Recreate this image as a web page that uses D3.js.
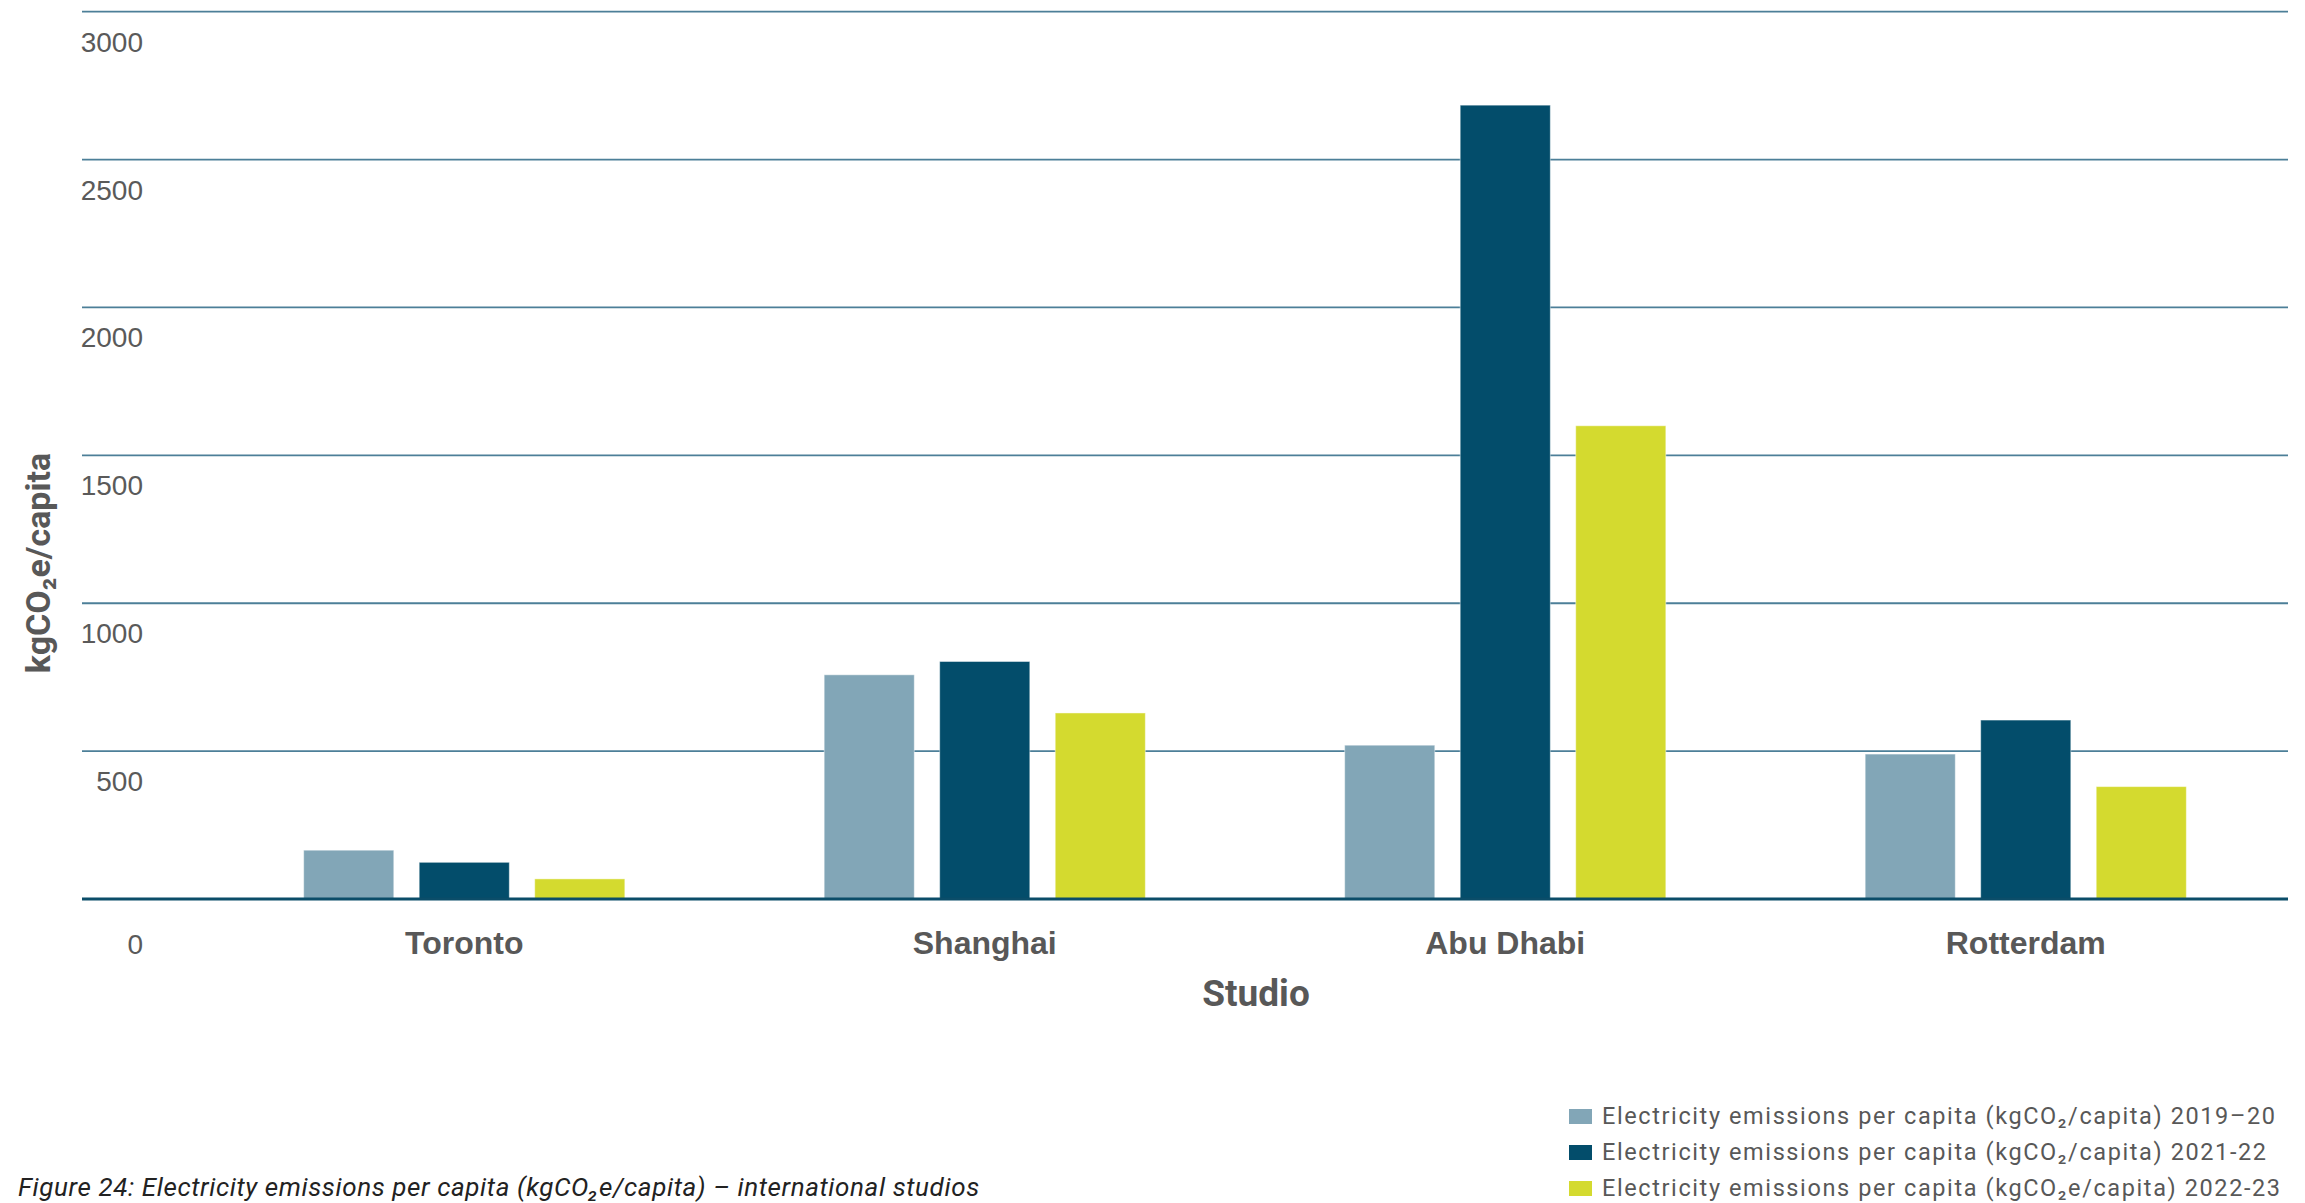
<!DOCTYPE html>
<html>
<head>
<meta charset="utf-8">
<script src="https://cdn.jsdelivr.net/npm/d3@7/dist/d3.min.js"></script>
<style>
  html, body { margin: 0; padding: 0; background: #ffffff; }
  svg { display: block; }
</style>
</head>
<body>
<svg id="chart" width="2305" height="1203"></svg>
<script>
// Electricity emissions per capita by studio, three reporting years
const studios = ["Toronto", "Shanghai", "Abu Dhabi", "Rotterdam"];
const seriesKeys = ["2019-20", "2021-22", "2022-23"];
const seriesLabels = [
  "Electricity emissions per capita (kgCO\u2082/capita) 2019\u201320",
  "Electricity emissions per capita (kgCO\u2082/capita) 2021-22",
  "Electricity emissions per capita (kgCO\u2082e/capita) 2022-23"
];
const values2019 = [165, 758, 520, 490];
const values2021 = [124, 803, 2684, 605];
const values2022 = [68, 629, 1600, 380];
const yTicks = [0, 500, 1000, 1500, 2000, 2500, 3000];
const colors = ["#82a6b7", "#034d6b", "#d4da2f"];

const seriesValues = [values2019, values2021, values2022];

const svg = d3.select("#chart");

const gridLeft = 82, gridRight = 2288;
const y = d3.scaleLinear().domain([0, 3000]).range([899, 11.7]);

const x0 = d3.scaleBand()
  .domain(studios)
  .range([204, 2286])
  .paddingInner(0.383)
  .paddingOuter(0.1915);

const x1 = d3.scaleBand()
  .domain(seriesKeys)
  .range([0, x0.bandwidth()])
  .paddingInner(0.22);

const color = d3.scaleOrdinal().domain(seriesKeys).range(colors);

// horizontal gridlines
svg.append("g")
  .selectAll("line")
  .data(yTicks.filter(d => d > 0))
  .join("line")
  .attr("x1", gridLeft)
  .attr("x2", gridRight)
  .attr("y1", d => y(d))
  .attr("y2", d => y(d))
  .attr("stroke", "#4c7f98")
  .attr("stroke-width", 1.8);

// bars
const rows = studios.map((s, i) => ({
  studio: s,
  vals: seriesKeys.map((k, j) => ({ key: k, value: seriesValues[j][i] }))
}));

svg.append("g")
  .selectAll("g")
  .data(rows)
  .join("g")
  .attr("transform", d => `translate(${x0(d.studio)},0)`)
  .selectAll("rect")
  .data(d => d.vals)
  .join("rect")
  .attr("x", d => x1(d.key))
  .attr("width", x1.bandwidth())
  .attr("y", d => y(d.value))
  .attr("height", d => y(0) - y(d.value))
  .attr("fill", d => color(d.key))
  .attr("stroke", "rgba(255,255,255,0.45)")
  .attr("stroke-width", 1);

// baseline
svg.append("line")
  .attr("x1", gridLeft)
  .attr("x2", gridRight)
  .attr("y1", y(0))
  .attr("y2", y(0))
  .attr("stroke", "#0b4d69")
  .attr("stroke-width", 3);

// y tick labels (sit below their gridline)
const catBaseline = 954;
svg.append("g")
  .selectAll("text")
  .data(yTicks)
  .join("text")
  .attr("x", 143)
  .attr("y", d => d === 0 ? catBaseline : y(d) + 40)
  .attr("text-anchor", "end")
  .attr("font-family", "'Liberation Sans', Arial, sans-serif")
  .attr("font-size", 28)
  .attr("fill", "#5a5a5a")
  .text(d => d);

// category labels
svg.append("g")
  .selectAll("text")
  .data(studios)
  .join("text")
  .attr("x", d => x0(d) + x0.bandwidth() / 2)
  .attr("y", catBaseline)
  .attr("text-anchor", "middle")
  .attr("font-family", "'Liberation Sans', Arial, sans-serif")
  .attr("font-weight", "bold")
  .attr("font-size", 32)
  .attr("fill", "#585858")
  .text(d => d);

// axis titles
svg.append("text")
  .attr("x", 1256)
  .attr("y", 1006)
  .attr("text-anchor", "middle")
  .attr("font-family", "Roboto, sans-serif")
  .attr("font-weight", "bold")
  .attr("font-size", 37)
  .attr("fill", "#585858")
  .text("Studio");

svg.append("text")
  .attr("transform", "translate(50,563) rotate(-90)")
  .attr("text-anchor", "middle")
  .attr("font-family", "Roboto, sans-serif")
  .attr("font-weight", "bold")
  .attr("font-size", 34)
  .attr("fill", "#585858")
  .text("kgCO\u2082e/capita");

// legend
const legend = svg.append("g")
  .selectAll("g")
  .data(seriesKeys)
  .join("g")
  .attr("transform", (d, i) => `translate(1569,${1109 + i * 36})`);

legend.append("rect")
  .attr("width", 23)
  .attr("height", 15)
  .attr("fill", d => color(d));

legend.append("text")
  .attr("x", 33)
  .attr("y", 14.5)
  .attr("font-family", "Roboto, sans-serif")
  .attr("font-size", 23.5)
  .attr("letter-spacing", 1.6)
  .attr("fill", "#585858")
  .text((d, i) => seriesLabels[i]);

// caption
svg.append("text")
  .attr("x", 18)
  .attr("y", 1196)
  .attr("font-family", "Roboto, sans-serif")
  .attr("font-style", "italic")
  .attr("font-size", 26)
  .attr("letter-spacing", 0.6)
  .attr("fill", "#222")
  .text("Figure 24: Electricity emissions per capita (kgCO\u2082e/capita) \u2013 international studios");
</script>
</body>
</html>
